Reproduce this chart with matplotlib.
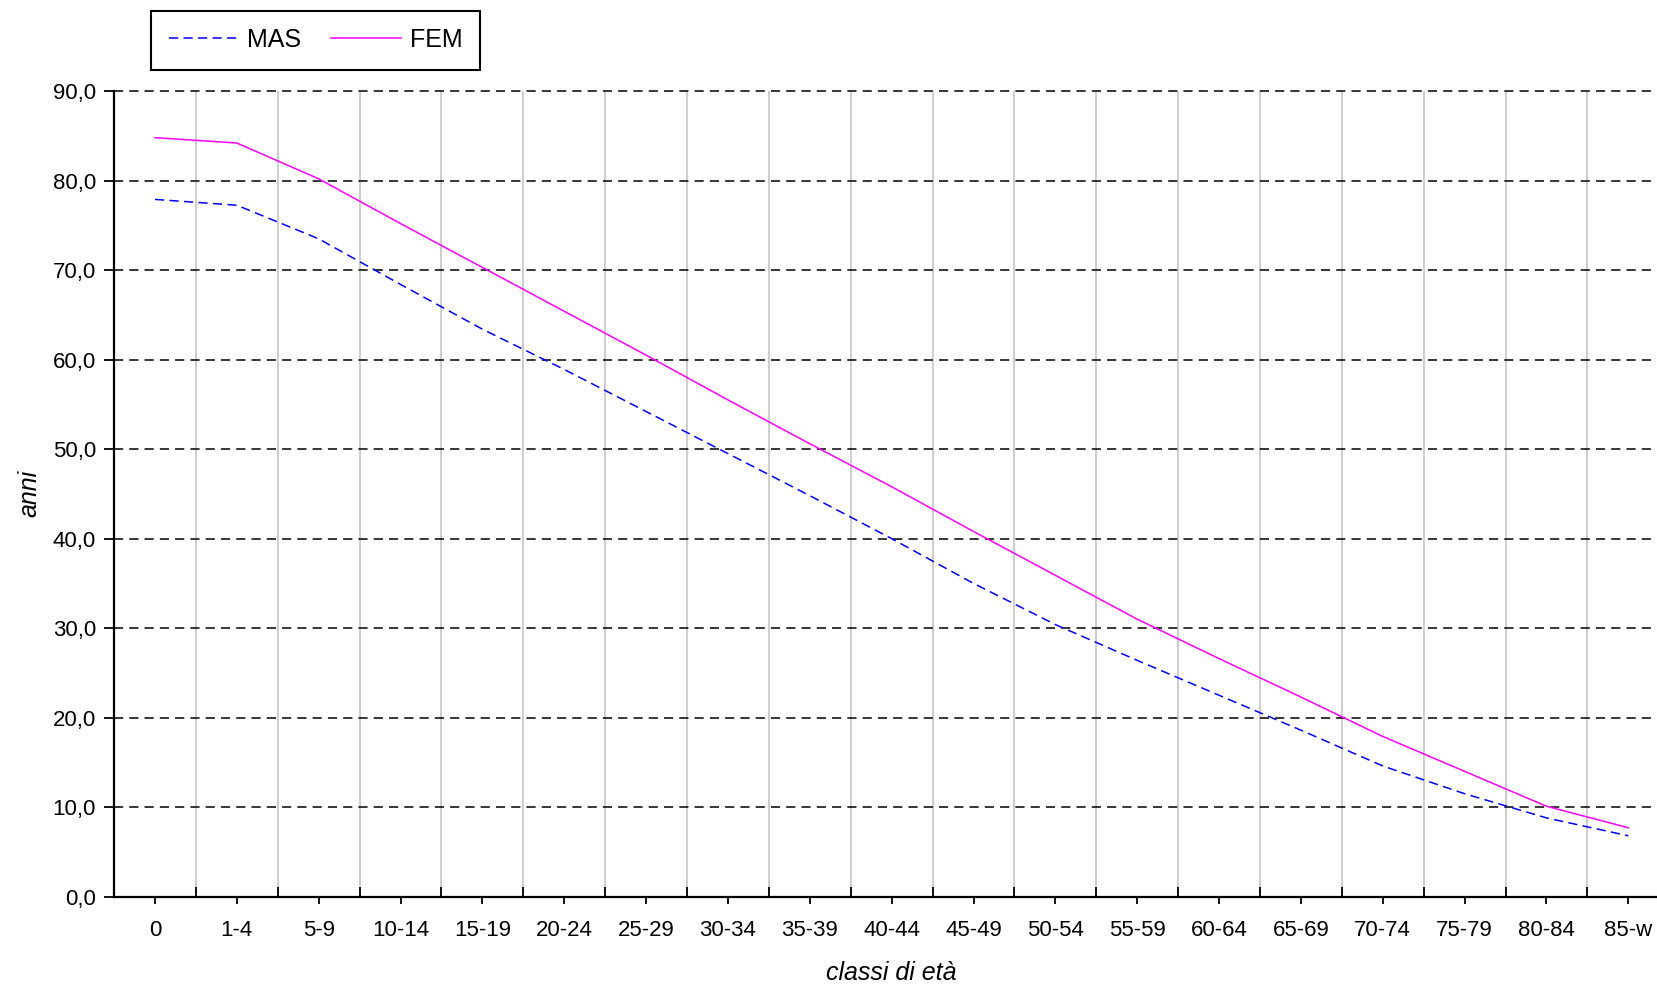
import matplotlib
matplotlib.use("Agg")
import matplotlib.pyplot as plt
from matplotlib.ticker import FuncFormatter
import numpy as np

# classi di eta' e speranza di vita (anni)
classi = ["0", "1-4", "5-9", "10-14", "15-19", "20-24", "25-29", "30-34", "35-39",
          "40-44", "45-49", "50-54", "55-59", "60-64", "65-69", "70-74", "75-79",
          "80-84", "85-w"]
mas = [77.9, 77.25, 73.5, 68.4, 63.4, 58.9, 54.2, 49.5, 44.8, 40.0, 35.0, 30.4,
       26.4, 22.5, 18.6, 14.6, 11.5, 8.8, 6.8]
fem = [84.8, 84.2, 80.2, 75.2, 70.3, 65.4, 60.5, 55.5, 50.6, 45.8, 40.8, 35.9,
       31.0, 26.6, 22.3, 17.9, 14.0, 10.1, 7.7]
y_ticks = [0, 10, 20, 30, 40, 50, 60, 70, 80, 90]

plt.rcParams['font.family'] = ['Liberation Sans', 'DejaVu Sans']

fig = plt.figure(figsize=(16.58, 9.86), dpi=100)
ax = fig.add_axes([0.0688, 0.0906, 0.938, 0.817])

x = np.arange(len(classi))
ax.plot(x, mas, color="#0000ff", linewidth=1.1, dashes=(6, 3.5), label="MAS", zorder=3)
ax.plot(x, fem, color="#ff00ff", linewidth=1.1, label="FEM", zorder=3)

ax.set_xlim(-0.5, len(classi) - 0.5)
ax.set_ylim(0, 90)

# bordi delle classi: tacche maggiori + griglia grigia
ax.set_xticks(x[:-1] + 0.5)
ax.set_xticks(x, minor=True)
ax.set_xticklabels(classi, minor=True)
ax.tick_params(axis='x', which='major', direction='in', length=7, width=1.3,
               labelbottom=False)
ax.tick_params(axis='x', which='minor', direction='out', length=5, width=1.3,
               labelsize=16, pad=12)
ax.xaxis.grid(True, which='major', color="#c0c0c0", linewidth=1.1, linestyle='-')

ax.set_yticks(y_ticks)
ax.yaxis.set_major_formatter(FuncFormatter(lambda v, p: ("%.1f" % v).replace('.', ',')))
ax.tick_params(axis='y', direction='out', length=7, width=1.3, labelsize=16, pad=6)
ax.yaxis.grid(True, color="black", linewidth=1.1, dashes=(6, 4))
for gl in ax.get_ygridlines():
    gl.set_clip_on(False)
ax.set_axisbelow(True)

for s in ['top', 'right']:
    ax.spines[s].set_visible(False)
for s in ['left', 'bottom']:
    ax.spines[s].set_linewidth(1.6)

ax.set_xlabel("classi di età", style='italic', fontsize=18, labelpad=14)
ax.set_ylabel("anni", style='italic', fontsize=18, labelpad=8)

leg = ax.legend(loc='upper left', bbox_to_anchor=(151 / 1658, 1 - 10.6 / 986),
                bbox_transform=fig.transFigure, borderaxespad=0, ncol=2,
                fontsize=18, frameon=True, fancybox=False, framealpha=1,
                edgecolor='black', handlelength=2.8, handletextpad=0.35,
                columnspacing=1.2, borderpad=0.7)
leg.get_frame().set_linewidth(1.5)

fig.savefig("out.png", dpi=100)
